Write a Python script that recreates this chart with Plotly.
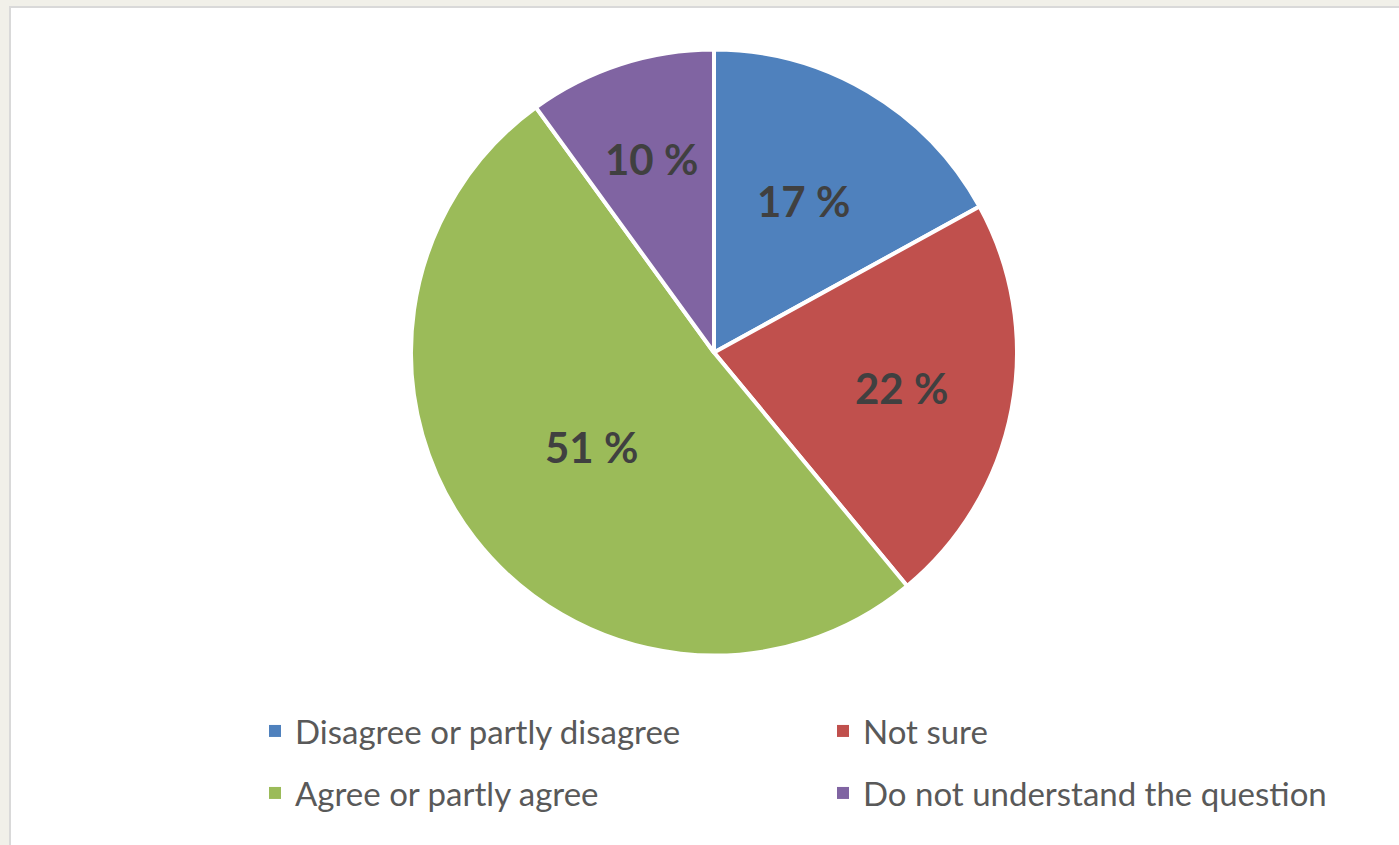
import math
import plotly.graph_objects as go

# Survey answer shares (percent)
categories = ["Disagree or partly disagree", "Not sure",
              "Agree or partly agree", "Do not understand the question"]
shares = [17, 22, 51, 10]
colors = ["#4F81BD", "#C0504D", "#9BBB59", "#8064A2"]

# Radial placement of each data label, as a fraction of the pie radius
label_radius = [0.58, 0.63, 0.51, 0.67]

W, H = 1399, 845
CX, CY, R = 714, 352.5, 303  # pie centre and radius in pixels

fig = go.Figure()

fig.add_trace(go.Pie(
    labels=categories,
    values=shares,
    sort=False,
    direction="clockwise",
    rotation=0,
    marker=dict(colors=colors, line=dict(color="white", width=4)),
    textinfo="none",
    showlegend=False,
    hoverinfo="label+value",
    domain=dict(x=[(CX - R) / W, (CX + R) / W],
                y=[1 - (CY + R) / H, 1 - (CY - R) / H]),
))

# Data labels at the middle angle of each slice
total = sum(shares)
cum = 0
annotations = []
for v, rf in zip(shares, label_radius):
    mid = (cum + v / 2) / total * 2 * math.pi
    cum += v
    px = CX + rf * R * math.sin(mid)
    py = CY - rf * R * math.cos(mid)
    annotations.append(dict(
        x=px / W, y=1 - py / H, xref="paper", yref="paper",
        text=f"{v} %", showarrow=False, xanchor="center", yanchor="middle",
        font=dict(family="Lato", size=42, color="#404040", weight="bold"),
    ))

# Legend entries, two per row
for i, (name, col) in enumerate(zip(categories, colors)):
    fig.add_trace(go.Scatter(
        x=[None], y=[None], mode="markers", name=name,
        marker=dict(symbol="square", size=12, color=col),
        legend="legend" if i < 2 else "legend2",
        hoverinfo="skip",
    ))

legend_common = dict(
    orientation="h", xanchor="left", yanchor="middle",
    x=255 / W, entrywidth=523, entrywidthmode="pixels",
    font=dict(family="Lato", size=33, color="#595959"),
    bgcolor="rgba(0,0,0,0)", itemclick=False, itemdoubleclick=False,
)

fig.update_layout(
    width=W, height=H,
    margin=dict(l=0, r=0, t=0, b=0),
    paper_bgcolor="#F1F0E9",
    plot_bgcolor="rgba(0,0,0,0)",
    xaxis=dict(visible=False), yaxis=dict(visible=False),
    legend=dict(y=1 - 731 / H, **legend_common),
    legend2=dict(y=1 - 793 / H, **legend_common),
    annotations=annotations,
    shapes=[dict(type="rect", xref="paper", yref="paper",
                 x0=10 / W, x1=1.01, y0=-0.01, y1=1 - 7 / H,
                 fillcolor="white", line=dict(color="#D9D9D9", width=2),
                 layer="below")],
)

fig.write_html("out.html")
